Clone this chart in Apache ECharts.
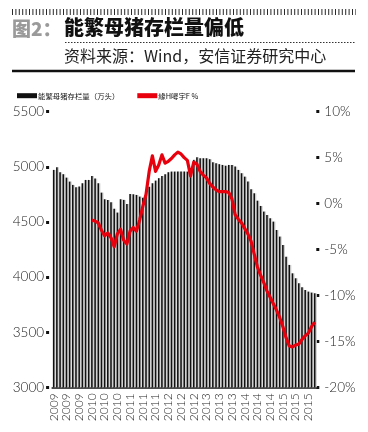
<!DOCTYPE html>
<html>
<head>
<meta charset="utf-8">
<script src="https://cdn.jsdelivr.net/npm/echarts@6/dist/echarts.min.js"></script>
<style>
html,body{margin:0;padding:0;background:#fff;}
#c{width:368px;height:432px;}
</style>
</head>
<body>
<div id="c"></div>
<script>
// Monthly categories, Jan 2009 – Nov 2015
var months = [
 '2009-01','2009-02','2009-03','2009-04','2009-05','2009-06','2009-07','2009-08','2009-09','2009-10','2009-11','2009-12',
 '2010-01','2010-02','2010-03','2010-04','2010-05','2010-06','2010-07','2010-08','2010-09','2010-10','2010-11','2010-12',
 '2011-01','2011-02','2011-03','2011-04','2011-05','2011-06','2011-07','2011-08','2011-09','2011-10','2011-11','2011-12',
 '2012-01','2012-02','2012-03','2012-04','2012-05','2012-06','2012-07','2012-08','2012-09','2012-10','2012-11','2012-12',
 '2013-01','2013-02','2013-03','2013-04','2013-05','2013-06','2013-07','2013-08','2013-09','2013-10','2013-11','2013-12',
 '2014-01','2014-02','2014-03','2014-04','2014-05','2014-06','2014-07','2014-08','2014-09','2014-10','2014-11','2014-12',
 '2015-01','2015-02','2015-03','2015-04','2015-05','2015-06','2015-07','2015-08','2015-09','2015-10','2015-11'
];
// 能繁母猪存栏量（万头）
var sowStock = [
 4972,4996,4951,4933,4902,4866,4836,4815,4821,4851,4881,4881,
 4917,4893,4851,4766,4706,4700,4679,4620,4585,4706,4700,4663,
 4754,4751,4745,4730,4720,4790,4820,4851,4875,4897,4917,4933,
 4951,4957,4957,4957,4957,4957,4957,4960,5063,5087,5078,5078,
 5078,5069,5042,5033,5024,5017,5010,5017,5017,5002,4972,4942,
 4911,4866,4797,4760,4693,4645,4594,4564,4534,4503,4427,4367,
 4291,4185,4110,4034,3989,3944,3907,3883,3868,3859,3853
];
// 同比 %
var sowYoY = [
 null,null,null,null,null,null,null,null,null,null,null,null,
 -1.8,-1.9,-2.1,-2.9,-3.5,-3.2,-3.7,-4.7,-3.3,-2.8,-4.0,-4.4,
 -3.0,-2.6,-3.0,-1.8,-0.3,1.0,3.5,5.2,3.5,4.2,5.3,4.4,
 4.6,4.9,5.3,5.6,5.4,5.0,4.7,3.0,4.5,4.3,3.5,3.1,
 2.8,2.2,1.8,1.5,1.3,1.3,1.3,1.2,0.5,-1.2,-1.7,-2.1,
 -2.7,-3.3,-4.1,-5.5,-6.9,-7.8,-8.6,-9.5,-10.2,-10.9,-11.6,-12.4,
 -13.4,-14.6,-15.5,-15.6,-15.4,-15.3,-14.8,-14.4,-14.1,-13.4,-12.9
];
var leftTicks = [3000, 5500, 500];
var rightTicks = [-20, 10, 5];
var seriesNames = ['能繁母猪存栏量（万头）', '緣H噚宇F %'];

var chart = echarts.init(document.getElementById('c'), null, {renderer:'canvas'});
var FONT = 'Lato';

var graphics = [
  {type:'line', shape:{x1:12, y1:12, x2:356, y2:12}, style:{stroke:'#2a2a2a', lineWidth:6, lineDash:[1,2.4]}},
  {type:'text', left:12, top:19, style:{text:'图2：', fill:'#9a9a9a', font:'900 19px "Noto Sans CJK SC"'}},
  {type:'text', left:64, top:17, style:{text:'能繁母猪存栏量偏低', fill:'#111', font:'900 20px "Noto Sans CJK SC"'}},
  {type:'line', shape:{x1:65, y1:42.5, x2:355, y2:42.5}, style:{stroke:'#333', lineWidth:1, lineDash:[1.5,1.5]}},
  {type:'text', left:64, top:48, style:{text:'资料来源：Wind，安信证券研究中心', fill:'#222', font:'400 16px "Noto Sans CJK SC"'}},
  {type:'line', shape:{x1:12, y1:71, x2:355, y2:71}, style:{stroke:'#111', lineWidth:2.5}}
];

chart.setOption({
  animation:false,
  backgroundColor:'#fff',
  graphic: graphics,
  legend:{
    left:12, top:87, itemGap:18, itemWidth:20, itemHeight:5,
    textStyle:{fontSize:7.4, color:'#111', fontFamily:'"Noto Sans CJK SC"', padding:[0,0,0,-4]},
    data:[{name:seriesNames[0], icon:'rect'},{name:seriesNames[1], icon:'rect'}]
  },
  grid:{left:52.1, right:51.7, top:111.7, bottom:44.7},
  xAxis:{
    type:'category', data:months, boundaryGap:true,
    axisLine:{onZero:false, lineStyle:{color:'#111', width:1.5}},
    axisTick:{alignWithLabel:true, interval:3, length:4, lineStyle:{color:'#111'}},
    axisLabel:{interval:3, rotate:90, fontSize:12, color:'#222', fontFamily:FONT, fontWeight:300, margin:6,
      formatter:function(v){return v.slice(0,4);}}
  },
  yAxis:[{
    type:'value', min:leftTicks[0], max:leftTicks[1], interval:leftTicks[2], offset:3,
    splitLine:{show:false}, axisLine:{show:false},
    axisTick:{show:true, length:3, lineStyle:{color:'#111', width:3}},
    axisLabel:{fontSize:13.5, color:'#222', fontFamily:FONT, fontWeight:300, margin:5,
      formatter:function(v){return String(v);}}
  },{
    type:'value', position:'right', min:rightTicks[0], max:rightTicks[1], interval:rightTicks[2],
    splitLine:{show:false}, axisLine:{show:false},
    axisTick:{show:true, length:3, lineStyle:{color:'#111', width:3}},
    axisLabel:{fontSize:13.5, color:'#222', fontFamily:FONT, fontWeight:300, margin:8, formatter:'{value}%'}
  }],
  series:[{
    name:seriesNames[0], type:'bar', data:sowStock, barWidth:1.6,
    itemStyle:{color:'#111', shadowColor:'#d0d0d0', shadowOffsetX:1.3, shadowBlur:0}
  },{
    name:seriesNames[1], type:'line', yAxisIndex:1, data:sowYoY, symbol:'none', z:5,
    itemStyle:{color:'#e8000d'},
    lineStyle:{color:'#e8000d', width:3.2, join:'round'}
  }]
});
</script>
</body>
</html>
